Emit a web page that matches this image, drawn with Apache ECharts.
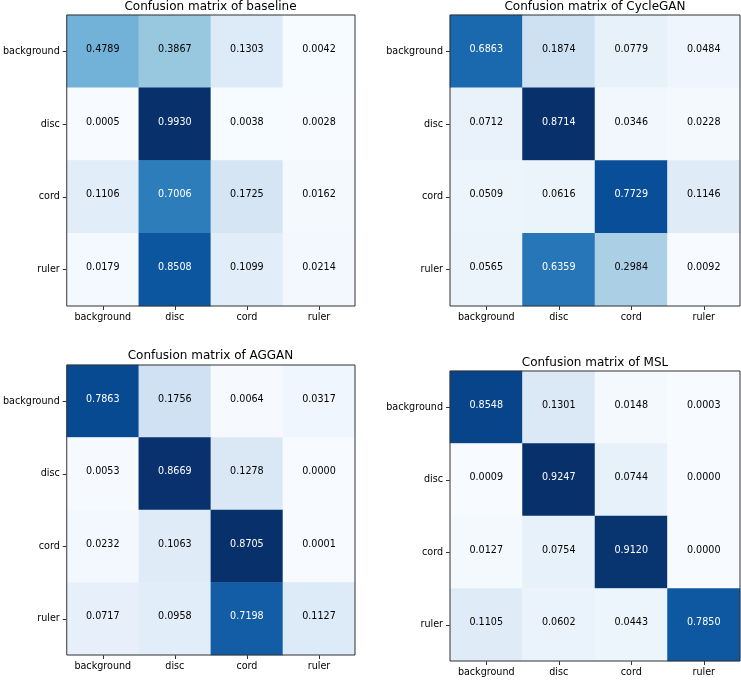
<!DOCTYPE html>
<html><head><meta charset="utf-8">
<script src="https://cdn.jsdelivr.net/npm/echarts@6/dist/echarts.min.js"></script>
<style>html,body{margin:0;padding:0;background:#fff}#c{width:741px;height:680px}</style>
</head><body><div id="c"></div>
<script>
const classes = ['background', 'disc', 'cord', 'ruler'];
const titles = ['Confusion matrix of baseline', 'Confusion matrix of CycleGAN', 'Confusion matrix of AGGAN', 'Confusion matrix of MSL'];
const baseline = [
  [0.4789, 0.3867, 0.1303, 0.0042],
  [0.0005, 0.9930, 0.0038, 0.0028],
  [0.1106, 0.7006, 0.1725, 0.0162],
  [0.0179, 0.8508, 0.1099, 0.0214]
];
const cyclegan = [
  [0.6863, 0.1874, 0.0779, 0.0484],
  [0.0712, 0.8714, 0.0346, 0.0228],
  [0.0509, 0.0616, 0.7729, 0.1146],
  [0.0565, 0.6359, 0.2984, 0.0092]
];
const aggan = [
  [0.7863, 0.1756, 0.0064, 0.0317],
  [0.0053, 0.8669, 0.1278, 0.0000],
  [0.0232, 0.1063, 0.8705, 0.0001],
  [0.0717, 0.0958, 0.7198, 0.1127]
];
const msl = [
  [0.8548, 0.1301, 0.0148, 0.0003],
  [0.0009, 0.9247, 0.0744, 0.0000],
  [0.0127, 0.0754, 0.9120, 0.0000],
  [0.1105, 0.0602, 0.0443, 0.7850]
];
const matrices = [baseline, cyclegan, aggan, msl];

const blues = ['#f7fbff', '#deebf7', '#c6dbef', '#9ecae1', '#6baed6', '#4292c6', '#2171b5', '#08519c', '#08306b'];
const grids = [
  {left: 66, top: 15, width: 289, height: 291},
  {left: 450, top: 15, width: 290, height: 291},
  {left: 66, top: 365, width: 289, height: 290},
  {left: 450, top: 371, width: 290, height: 290}
];
const titleTops = [1, 1, 350, 357];
const font = 'DejaVu Sans';

const option = {
  backgroundColor: '#fff',
  animation: false,
  title: [], grid: [], xAxis: [], yAxis: [], visualMap: [], series: []
};
matrices.forEach((m, k) => {
  const g = grids[k];
  let mn = Infinity, mx = -Infinity;
  m.forEach(r => r.forEach(v => { mn = Math.min(mn, v); mx = Math.max(mx, v); }));
  const thresh = mx / 2;
  option.title.push({
    text: titles[k], left: g.left + g.width / 2, top: titleTops[k], textAlign: 'center', padding: 0,
    textStyle: {fontFamily: font, fontSize: 12, fontWeight: 'normal', color: '#000'}
  });
  option.grid.push({left: g.left, top: g.top, width: g.width, height: g.height, show: true,
    borderColor: '#333', borderWidth: 1, backgroundColor: 'transparent', z: 10});
  option.xAxis.push({
    type: 'category', gridIndex: k, data: classes, position: 'bottom',
    axisLine: {show: false}, splitLine: {show: false},
    axisTick: {show: true, alignWithLabel: true, interval: 0, length: 4, lineStyle: {color: '#333'}},
    axisLabel: {interval: 0, fontFamily: font, fontSize: 9.6, color: '#000', margin: 6}
  });
  option.yAxis.push({
    type: 'category', gridIndex: k, data: classes, inverse: true,
    axisLine: {show: false}, splitLine: {show: false},
    axisTick: {show: true, alignWithLabel: true, interval: 0, length: 4, lineStyle: {color: '#333'}},
    axisLabel: {interval: 0, fontFamily: font, fontSize: 9.6, color: '#000', margin: 7}
  });
  option.visualMap.push({
    type: 'continuous', show: false, seriesIndex: k, min: mn, max: mx, dimension: 2,
    inRange: {color: blues}
  });
  const data = [];
  m.forEach((row, i) => row.forEach((v, j) => {
    data.push({value: [j, i, v], label: {color: v > thresh ? '#fff' : '#000'}});
  }));
  option.series.push({
    type: 'heatmap', xAxisIndex: k, yAxisIndex: k, data: data,
    label: {show: true, fontFamily: font, fontSize: 9.6, offset: [0, -2],
      formatter: p => p.value[2].toFixed(4)},
    itemStyle: {borderWidth: 0},
    emphasis: {disabled: true}
  });
});
const chart = echarts.init(document.getElementById('c'), null, {renderer: 'canvas'});
chart.setOption(option);
</script></body></html>
